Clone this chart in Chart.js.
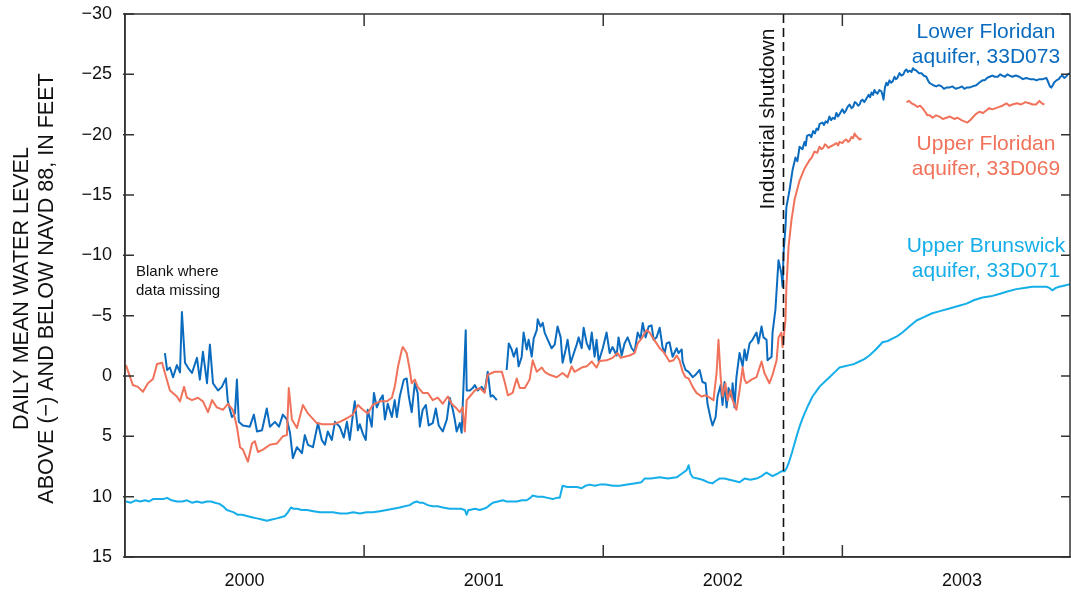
<!DOCTYPE html>
<html>
<head>
<meta charset="utf-8">
<script src="https://cdn.jsdelivr.net/npm/chart.js@4.4.1/dist/chart.umd.min.js"></script>
<style>
  html, body { margin: 0; padding: 0; background: #fff; }
  #wrap { width: 1071px; height: 592px; }
</style>
</head>
<body>
<div id="wrap"><canvas id="chart"></canvas></div>
<script>
// x = decimal year, y = feet (negative = above NAVD 88); null = no record
const yearLabels = ['2000', '2001', '2002', '2003'];
const yearBounds = [2001, 2002, 2003];
const yTicks = [-30, -25, -20, -15, -10, -5, 0, 5, 10, 15];
const shutdownYear = 2002.75;

const lowerFloridan = [
  [2000.167,-1.9],[2000.176,-0.5],[2000.188,-0.7],[2000.201,0.1],[2000.217,-0.9],[2000.230,-0.3],
  [2000.238,-5.3],[2000.251,-1.1],[2000.263,-0.7],[2000.280,-0.25],[2000.301,-1.5],[2000.313,0.3],
  [2000.326,-2.0],[2000.343,0.6],[2000.355,-2.6],[2000.368,0.6],[2000.389,1.2],[2000.405,0.9],
  [2000.422,0.2],[2000.430,2.1],[2000.447,3.4],[2000.460,3.1],[2000.468,0.3],[2000.476,3.8],
  [2000.493,4.1],[2000.522,4.2],[2000.539,3.2],[2000.552,4.6],[2000.573,4.5],[2000.593,2.7],
  [2000.606,4.2],[2000.627,3.8],[2000.644,4.2],[2000.660,3.2],[2000.677,3.6],[2000.690,4.7],
  [2000.702,6.8],[2000.719,5.9],[2000.740,6.4],[2000.752,4.9],[2000.765,5.7],[2000.786,5.9],
  [2000.807,3.9],[2000.823,5.3],[2000.836,5.7],[2000.848,4.6],[2000.865,5.3],[2000.878,3.8],
  [2000.898,4.2],[2000.915,5.1],[2000.928,3.8],[2000.940,5.3],[2000.953,3.2],[2000.961,2.1],
  [2000.974,4.5],[2000.982,4.0],[2000.995,4.8],[2001.007,5.3],[2001.015,2.8],[2001.032,4.2],
  [2001.041,1.4],[2001.053,2.6],[2001.066,2.0],[2001.078,1.6],[2001.087,3.6],[2001.099,2.3],
  [2001.116,3.4],[2001.128,2.0],[2001.137,3.4],[2001.149,1.7],[2001.166,0.3],[2001.178,0.2],
  [2001.187,1.7],[2001.199,3.0],[2001.212,0.6],[2001.224,1.4],[2001.233,4.2],[2001.245,2.8],
  [2001.258,2.4],[2001.270,4.1],[2001.287,3.9],[2001.300,2.7],[2001.312,4.1],[2001.329,4.6],
  [2001.346,3.6],[2001.358,1.8],[2001.371,2.8],[2001.379,3.6],[2001.387,4.6],[2001.400,3.9],
  [2001.408,4.7],[2001.412,2.6],[2001.425,-3.8],[2001.429,1.2],[2001.442,1.2],[2001.454,1.0],
  [2001.463,0.75],[2001.475,1.2],[2001.492,0.9],[2001.504,1.3],[2001.517,-0.35],[2001.529,1.7],
  [2001.538,1.6],[2001.555,2.0],[2001.575,null],
  [2001.596,-0.5],[2001.605,-2.7],[2001.617,-2.2],[2001.626,-1.6],[2001.638,-2.3],[2001.646,-0.8],
  [2001.659,-1.6],[2001.667,-3.6],[2001.680,-2.2],[2001.688,-3.0],[2001.701,-1.6],[2001.709,-3.1],
  [2001.722,-3.8],[2001.726,-4.7],[2001.738,-4.1],[2001.747,-4.4],[2001.755,-3.6],[2001.768,-3.0],
  [2001.784,-2.3],[2001.797,-2.6],[2001.809,-4.1],[2001.822,-3.2],[2001.830,-1.1],[2001.843,-2.2],
  [2001.851,-3.0],[2001.864,-1.1],[2001.872,-1.6],[2001.889,-2.6],[2001.897,-3.2],[2001.910,-2.3],
  [2001.918,-4.0],[2001.931,-2.7],[2001.943,-2.2],[2001.952,-3.6],[2001.964,-1.6],[2001.972,-3.0],
  [2001.981,-1.2],[2001.998,-2.3],[2002.014,-3.6],[2002.027,-1.9],[2002.039,-2.4],[2002.056,-1.7],
  [2002.064,-3.2],[2002.077,-1.7],[2002.089,-2.7],[2002.102,-3.2],[2002.119,-2.3],[2002.131,-2.0],
  [2002.144,-3.6],[2002.156,-3.1],[2002.165,-4.4],[2002.177,-3.2],[2002.190,-4.1],[2002.202,-4.2],
  [2002.211,-3.0],[2002.223,-3.2],[2002.236,-4.0],[2002.248,-2.4],[2002.257,-1.9],[2002.265,-2.7],
  [2002.277,-2.8],[2002.290,-1.6],[2002.307,-2.3],[2002.315,-1.9],[2002.328,-2.2],[2002.332,-1.2],
  [2002.344,-0.5],[2002.357,-0.35],[2002.374,0.1],[2002.386,-0.1],[2002.403,-0.5],[2002.415,0.5],
  [2002.428,0.6],[2002.436,2.3],[2002.449,3.5],[2002.457,4.1],[2002.470,3.4],[2002.478,1.7],
  [2002.491,0.75],[2002.499,2.4],[2002.507,0.5],[2002.516,2.6],[2002.524,1.0],[2002.537,1.8],
  [2002.541,0.6],[2002.549,2.6],[2002.557,0.1],[2002.570,-1.9],[2002.583,-0.8],[2002.591,-2.2],
  [2002.599,-1.3],[2002.612,-2.7],[2002.624,-3.0],[2002.641,-3.6],[2002.649,-2.7],[2002.662,-4.1],
  [2002.670,-3.2],[2002.683,-3.0],[2002.687,-1.3],[2002.704,-1.6],[2002.708,-3.6],[2002.720,-5.5],
  [2002.733,-9.6],[2002.745,-8.5],[2002.750,-7.4],[2002.754,-10.2],[2002.762,-12.3],[2002.766,-14.0],
  [2002.779,-15.4],[2002.792,-17.1],[2002.804,-18.1],[2002.812,-17.8],[2002.821,-19.0],[2002.833,-18.8],
  [2002.842,-19.4],[2002.847,-19.1],[2002.852,-19.9],[2002.863,-20.0],[2002.870,-19.8],[2002.878,-20.3],
  [2002.885,-20.1],[2002.892,-20.5],[2002.899,-20.4],[2002.905,-20.9],[2002.917,-21.0],[2002.923,-20.8],
  [2002.930,-21.1],[2002.938,-21.0],[2002.946,-21.5],[2002.953,-21.2],[2002.960,-21.4],[2002.968,-21.3],
  [2002.975,-21.8],[2002.982,-21.5],[2002.988,-21.7],[2002.994,-21.9],[2003.000,-22.1],[2003.008,-21.8],
  [2003.015,-22.0],[2003.022,-22.3],[2003.030,-22.5],[2003.038,-22.2],[2003.045,-22.3],[2003.052,-22.7],
  [2003.059,-22.6],[2003.066,-22.4],[2003.072,-22.5],[2003.078,-22.8],[2003.084,-22.9],[2003.092,-22.7],
  [2003.101,-23.0],[2003.110,-23.3],[2003.116,-23.1],[2003.122,-23.5],[2003.128,-23.3],[2003.134,-23.7],
  [2003.140,-23.5],[2003.147,-23.4],[2003.155,-23.7],[2003.163,-23.6],[2003.168,-23.3],[2003.172,-22.9],
  [2003.178,-23.9],[2003.184,-24.3],[2003.190,-24.1],[2003.197,-24.5],[2003.204,-24.3],[2003.210,-24.4],
  [2003.218,-24.8],[2003.224,-24.6],[2003.230,-24.7],[2003.239,-25.1],[2003.247,-24.9],[2003.255,-25.0],
  [2003.262,-25.3],[2003.268,-25.4],[2003.274,-25.2],[2003.280,-25.3],[2003.289,-25.2],[2003.295,-25.5],
  [2003.300,-25.4],[2003.310,-25.3],[2003.320,-25.1],[2003.331,-25.1],[2003.340,-24.9],[2003.351,-24.8],
  [2003.358,-24.5],[2003.364,-24.3],[2003.372,-24.2],[2003.380,-24.1],[2003.393,-24.0],[2003.404,-24.1],
  [2003.415,-24.0],[2003.425,-23.8],[2003.435,-23.9],[2003.447,-23.9],[2003.460,-24.0],[2003.474,-23.8],
  [2003.489,-23.9],[2003.500,-24.0],[2003.510,-23.8],[2003.520,-23.9],[2003.531,-23.9],[2003.545,-24.0],
  [2003.560,-24.1],[2003.572,-24.3],[2003.586,-24.5],[2003.595,-24.5],[2003.605,-24.7],[2003.616,-24.8],
  [2003.627,-24.9],[2003.638,-24.8],[2003.650,-24.8],[2003.660,-25.0],[2003.669,-24.9],[2003.680,-24.8],
  [2003.690,-25.0],[2003.700,-24.9],[2003.711,-24.8],[2003.725,-24.9],[2003.740,-24.8],[2003.755,-24.6],
  [2003.769,-24.7],[2003.785,-24.6],[2003.800,-24.6],[2003.812,-24.5],[2003.824,-24.6],[2003.838,-24.6],
  [2003.853,-24.7],[2003.862,-24.3],[2003.868,-24.0],[2003.874,-23.9],[2003.880,-24.1],[2003.885,-24.3],
  [2003.895,-24.5],[2003.905,-24.6],[2003.912,-24.8],[2003.920,-24.9],[2003.928,-24.7],[2003.935,-24.8],
  [2003.943,-25.0],[2003.952,-25.1]
];

const upperFloridan = [
  [2000.004,-0.9],[2000.033,0.75],[2000.054,0.9],[2000.075,1.3],[2000.096,0.6],[2000.117,0.25],
  [2000.134,-1.0],[2000.155,-1.1],[2000.167,-0.25],[2000.188,1.2],[2000.217,1.7],[2000.230,2.1],
  [2000.247,0.9],[2000.259,1.8],[2000.280,2.0],[2000.305,1.8],[2000.326,2.1],[2000.347,3.0],
  [2000.364,2.0],[2000.384,2.6],[2000.410,2.8],[2000.430,2.3],[2000.451,2.8],[2000.468,4.2],
  [2000.481,5.9],[2000.493,6.1],[2000.514,7.1],[2000.531,5.6],[2000.543,5.4],[2000.556,6.3],
  [2000.577,6.1],[2000.606,5.7],[2000.635,5.6],[2000.660,5.0],[2000.677,4.9],[2000.685,1.0],
  [2000.698,3.6],[2000.719,4.3],[2000.744,2.4],[2000.765,3.1],[2000.802,3.9],[2000.827,4.0],
  [2000.869,4.0],[2000.898,3.8],[2000.928,3.5],[2000.953,3.2],[2000.974,2.4],[2000.995,2.8],
  [2001.015,3.1],[2001.036,2.4],[2001.066,2.1],[2001.095,2.1],[2001.116,1.8],[2001.128,0.9],
  [2001.141,-0.7],[2001.158,-2.2],[2001.162,-2.4],[2001.178,-1.9],[2001.191,-0.5],[2001.199,0.6],
  [2001.212,0.3],[2001.224,0.9],[2001.245,1.4],[2001.266,1.4],[2001.287,2.0],[2001.308,1.8],
  [2001.329,2.3],[2001.350,1.7],[2001.366,2.3],[2001.387,2.7],[2001.400,3.0],[2001.412,2.6],
  [2001.421,4.6],[2001.429,2.0],[2001.442,1.7],[2001.463,1.2],[2001.484,1.0],[2001.504,1.4],
  [2001.517,-0.1],[2001.534,-0.25],[2001.546,-0.35],[2001.576,-0.35],[2001.588,0.5],[2001.601,1.6],
  [2001.621,1.4],[2001.638,0.2],[2001.651,1.0],[2001.672,1.0],[2001.692,0.3],[2001.705,-1.3],
  [2001.722,-0.35],[2001.743,-0.7],[2001.755,-0.35],[2001.776,-0.1],[2001.805,0.1],[2001.830,-0.25],
  [2001.851,0.1],[2001.868,-0.8],[2001.880,-0.35],[2001.910,-0.7],[2001.931,-0.8],[2001.952,-1.2],
  [2001.972,-0.7],[2001.985,-1.25],[2002.014,-1.3],[2002.039,-1.5],[2002.060,-1.9],[2002.073,-1.5],
  [2002.089,-1.6],[2002.110,-1.7],[2002.131,-1.9],[2002.144,-2.7],[2002.160,-3.1],[2002.181,-3.8],
  [2002.194,-3.6],[2002.206,-3.2],[2002.223,-2.7],[2002.236,-2.3],[2002.252,-2.0],[2002.265,-1.6],
  [2002.277,-1.2],[2002.294,-1.3],[2002.307,-1.7],[2002.319,-1.3],[2002.332,-0.35],[2002.344,0.1],
  [2002.357,0.2],[2002.374,0.9],[2002.390,1.4],[2002.411,1.7],[2002.428,1.6],[2002.445,1.8],
  [2002.461,2.0],[2002.474,-0.25],[2002.482,-3.0],[2002.491,0.1],[2002.499,1.7],[2002.511,0.6],
  [2002.520,2.0],[2002.532,1.2],[2002.541,2.0],[2002.557,2.8],[2002.570,1.2],[2002.583,-0.7],
  [2002.591,0.3],[2002.599,0.6],[2002.620,0.3],[2002.641,0.1],[2002.662,-1.2],[2002.674,-0.25],
  [2002.695,0.6],[2002.708,-0.1],[2002.725,-1.3],[2002.733,-3.2],[2002.745,-3.6],[2002.750,-2.4],
  [2002.762,-4.6],[2002.766,-7.4],[2002.775,-10.7],[2002.787,-12.9],[2002.800,-14.6],[2002.821,-16.2],
  [2002.842,-17.2],[2002.863,-17.9],[2002.872,-18.1],[2002.883,-18.6],[2002.895,-18.5],[2002.904,-19.0],
  [2002.912,-18.8],[2002.920,-18.9],[2002.927,-19.2],[2002.934,-19.1],[2002.941,-18.9],[2002.948,-19.0],
  [2002.959,-19.1],[2002.967,-19.2],[2002.975,-19.3],[2002.982,-19.1],[2002.988,-19.4],[2003.000,-19.3],
  [2003.008,-19.5],[2003.017,-19.6],[2003.024,-19.4],[2003.030,-19.5],[2003.038,-19.8],[2003.045,-19.7],
  [2003.051,-20.1],[2003.057,-19.9],[2003.063,-19.8],[2003.072,-19.6],[2003.080,-19.7],[2003.170,null],
  [2003.268,-22.7],[2003.279,-22.8],[2003.289,-22.6],[2003.300,-22.5],[2003.314,-22.3],[2003.325,-22.4],
  [2003.335,-22.2],[2003.346,-21.9],[2003.356,-21.6],[2003.366,-21.6],[2003.377,-21.4],[2003.392,-21.6],
  [2003.406,-21.5],[2003.420,-21.3],[2003.435,-21.4],[2003.450,-21.5],[2003.468,-21.3],[2003.482,-21.4],
  [2003.498,-21.2],[2003.510,-21.1],[2003.523,-21.0],[2003.534,-21.2],[2003.544,-21.4],[2003.558,-21.7],
  [2003.573,-21.9],[2003.588,-21.8],[2003.602,-22.0],[2003.614,-22.2],[2003.627,-22.1],[2003.642,-22.2],
  [2003.656,-22.3],[2003.670,-22.4],[2003.686,-22.6],[2003.698,-22.4],[2003.711,-22.5],[2003.730,-22.6],
  [2003.748,-22.5],[2003.765,-22.7],[2003.782,-22.6],[2003.796,-22.5],[2003.810,-22.5],[2003.824,-22.8],
  [2003.834,-22.6],[2003.845,-22.5]
];

const upperBrunswick = [
  [2000.004,10.4],[2000.025,10.5],[2000.045,10.3],[2000.063,10.4],[2000.085,10.3],[2000.100,10.4],
  [2000.117,10.2],[2000.140,10.2],[2000.160,10.2],[2000.176,10.1],[2000.195,10.3],[2000.217,10.4],
  [2000.240,10.4],[2000.259,10.3],[2000.280,10.5],[2000.301,10.4],[2000.322,10.5],[2000.343,10.4],
  [2000.360,10.4],[2000.376,10.5],[2000.395,10.6],[2000.410,10.8],[2000.426,11.1],[2000.440,11.2],
  [2000.455,11.3],[2000.472,11.5],[2000.490,11.5],[2000.510,11.6],[2000.530,11.7],[2000.552,11.8],
  [2000.572,11.9],[2000.593,12.0],[2000.614,11.9],[2000.635,11.8],[2000.652,11.7],[2000.669,11.6],
  [2000.681,11.3],[2000.694,10.9],[2000.705,11.0],[2000.719,11.0],[2000.740,11.1],[2000.761,11.1],
  [2000.788,11.2],[2000.815,11.3],[2000.842,11.3],[2000.869,11.3],[2000.900,11.4],[2000.928,11.4],
  [2000.955,11.3],[2000.982,11.4],[2001.010,11.3],[2001.036,11.3],[2001.066,11.2],[2001.095,11.1],
  [2001.122,11.0],[2001.149,10.9],[2001.170,10.8],[2001.191,10.7],[2001.205,10.5],[2001.220,10.4],
  [2001.232,10.5],[2001.245,10.5],[2001.266,10.7],[2001.287,10.8],[2001.308,10.8],[2001.329,10.9],
  [2001.358,11.0],[2001.387,11.0],[2001.405,11.0],[2001.421,11.1],[2001.429,11.5],[2001.436,11.1],
  [2001.442,11.1],[2001.463,11.0],[2001.484,11.1],[2001.500,11.0],[2001.513,10.9],[2001.525,10.7],
  [2001.538,10.5],[2001.560,10.4],[2001.580,10.3],[2001.596,10.4],[2001.617,10.4],[2001.638,10.4],
  [2001.660,10.3],[2001.680,10.3],[2001.695,10.1],[2001.705,9.9],[2001.725,10.0],[2001.747,10.0],
  [2001.768,10.1],[2001.789,10.2],[2001.805,10.1],[2001.818,10.1],[2001.824,9.6],[2001.830,9.1],
  [2001.850,9.2],[2001.872,9.2],[2001.890,9.2],[2001.910,9.3],[2001.925,9.1],[2001.943,9.0],
  [2001.965,9.1],[2001.985,9.0],[2002.010,9.0],[2002.040,9.1],[2002.069,9.1],[2002.100,9.0],
  [2002.130,8.9],[2002.160,8.8],[2002.173,8.5],[2002.200,8.5],[2002.236,8.4],[2002.270,8.5],
  [2002.307,8.4],[2002.328,8.1],[2002.349,7.8],[2002.357,7.4],[2002.365,8.1],[2002.374,8.4],
  [2002.395,8.5],[2002.415,8.6],[2002.437,8.8],[2002.457,8.9],[2002.470,8.7],[2002.486,8.5],
  [2002.508,8.5],[2002.528,8.6],[2002.550,8.7],[2002.570,8.8],[2002.591,8.5],[2002.615,8.6],
  [2002.641,8.5],[2002.662,8.3],[2002.683,8.0],[2002.708,8.3],[2002.728,8.1],[2002.745,7.9],
  [2002.758,7.9],[2002.768,7.6],[2002.779,7.0],[2002.790,6.3],[2002.800,5.6],[2002.810,4.9],
  [2002.821,4.2],[2002.832,3.6],[2002.842,3.1],[2002.858,2.4],[2002.875,1.7],[2002.890,1.3],
  [2002.904,0.9],[2002.925,0.5],[2002.946,0.1],[2002.967,-0.3],[2002.988,-0.7],[2003.010,-0.8],
  [2003.030,-0.9],[2003.050,-1.0],[2003.071,-1.2],[2003.092,-1.4],[2003.113,-1.7],[2003.140,-2.2],
  [2003.168,-2.8],[2003.190,-2.9],[2003.209,-3.1],[2003.230,-3.3],[2003.251,-3.6],[2003.280,-4.1],
  [2003.310,-4.6],[2003.343,-4.9],[2003.376,-5.2],[2003.412,-5.4],[2003.448,-5.6],[2003.484,-5.8],
  [2003.519,-6.0],[2003.552,-6.3],[2003.586,-6.5],[2003.620,-6.6],[2003.656,-6.8],[2003.690,-7.0],
  [2003.727,-7.2],[2003.760,-7.3],[2003.794,-7.4],[2003.825,-7.4],[2003.853,-7.4],[2003.866,-7.3],
  [2003.878,-7.1],[2003.893,-7.3],[2003.907,-7.4],[2003.930,-7.5],[2003.952,-7.6]
];

const FONT = '"Liberation Sans", Arial, Helvetica, sans-serif';
const colLower = '#0b6cbf';
const colUpper = '#f1725a';
const colBruns = '#16aee9';
const axisColor = '#333';

const toXY = s => s.map(([x, y]) => ({ x, y }));

const decorations = {
  id: 'decorations',
  afterDatasetsDraw(chart) {
    const { ctx, chartArea: a, scales: { x, y } } = chart;
    ctx.save();

    // industrial shutdown marker
    const sx = Math.round(x.getPixelForValue(shutdownYear)) + 0.5;
    ctx.strokeStyle = '#111';
    ctx.lineWidth = 1.6;
    ctx.setLineDash([9, 5]);
    ctx.beginPath();
    ctx.moveTo(sx, a.top);
    ctx.lineTo(sx, a.bottom);
    ctx.stroke();
    ctx.setLineDash([]);

    // box + inward ticks
    ctx.strokeStyle = axisColor;
    ctx.lineWidth = 1.5;
    ctx.strokeRect(a.left, a.top, a.right - a.left, a.bottom - a.top);
    ctx.beginPath();
    yTicks.forEach(v => {
      const py = y.getPixelForValue(v);
      ctx.moveTo(a.left - 2, py); ctx.lineTo(a.left + 9, py);
      ctx.moveTo(a.right - 9, py); ctx.lineTo(a.right, py);
    });
    yearBounds.forEach(v => {
      const px = x.getPixelForValue(v);
      ctx.moveTo(px, a.bottom); ctx.lineTo(px, a.bottom - 12);
      ctx.moveTo(px, a.top); ctx.lineTo(px, a.top + 12);
    });
    ctx.stroke();

    // y-axis title
    const cy = (a.top + a.bottom) / 2 + 3;
    ctx.fillStyle = '#111';
    ctx.font = '21.5px ' + FONT;
    ctx.textAlign = 'center';
    ctx.textBaseline = 'middle';
    [['DAILY MEAN WATER LEVEL', 22], ['ABOVE (\u2212) AND BELOW NAVD 88, IN FEET', 47]].forEach(([t, px]) => {
      ctx.save();
      ctx.translate(px, cy);
      ctx.rotate(-Math.PI / 2);
      ctx.fillText(t, 0, 0);
      ctx.restore();
    });

    // shutdown label
    ctx.save();
    ctx.translate(sx - 10, y.getPixelForValue(-13.8));
    ctx.rotate(-Math.PI / 2);
    ctx.textAlign = 'left';
    ctx.textBaseline = 'alphabetic';
    ctx.font = '21px ' + FONT;
    ctx.fillText('Industrial shutdown', 0, 0);
    ctx.restore();

    // series labels
    ctx.textAlign = 'center';
    ctx.textBaseline = 'alphabetic';
    ctx.font = '21px ' + FONT;
    const lx = 986;
    const labels = [
      [colLower, 'Lower Floridan', 38], [colLower, 'aquifer, 33D073', 63],
      [colUpper, 'Upper Floridan', 150], [colUpper, 'aquifer, 33D069', 175],
      [colBruns, 'Upper Brunswick', 252], [colBruns, 'aquifer, 33D071', 277]
    ];
    labels.forEach(([c, t, py]) => { ctx.fillStyle = c; ctx.fillText(t, lx, py); });

    ctx.fillStyle = '#111';
    ctx.textAlign = 'left';
    ctx.font = '15px ' + FONT;
    ctx.fillText('Blank where', 136, 276);
    ctx.fillText('data missing', 136, 295);
    ctx.restore();
  }
};

new Chart(document.getElementById('chart'), {
  type: 'line',
  data: {
    datasets: [
      { label: 'Upper Floridan aquifer, 33D069', data: toXY(upperFloridan), borderColor: colUpper, order: 1 },
      { label: 'Lower Floridan aquifer, 33D073', data: toXY(lowerFloridan), borderColor: colLower, order: 2 },
      { label: 'Upper Brunswick aquifer, 33D071', data: toXY(upperBrunswick), borderColor: colBruns, order: 3 }
    ]
  },
  options: {
    responsive: true,
    maintainAspectRatio: false,
    animation: false,
    layout: { padding: { top: 14, right: 1, left: 0, bottom: 0 } },
    elements: {
      line: { borderWidth: 2, tension: 0, borderJoinStyle: 'round' },
      point: { radius: 0, hoverRadius: 0 }
    },
    plugins: { legend: { display: false }, tooltip: { enabled: false } },
    scales: {
      x: {
        type: 'linear',
        min: 2000,
        max: 2003.952,
        afterFit: s => { s.height = 35; s.paddingLeft = 0; s.paddingRight = 0; },
        afterBuildTicks: s => { s.ticks = yearLabels.map(l => ({ value: Number(l) + 0.5 })); },
        ticks: {
          autoSkip: false,
          maxRotation: 0,
          padding: 13,
          color: '#111',
          font: { family: FONT, size: 18 },
          callback: v => String(Math.floor(v))
        },
        grid: { display: false, drawTicks: false },
        border: { display: true, color: axisColor, width: 1.5 }
      },
      y: {
        type: 'linear',
        reverse: true,
        min: -30,
        max: 15,
        afterFit: s => { s.width = 125; s.paddingTop = 0; s.paddingBottom = 0; },
        afterBuildTicks: s => { s.ticks = yTicks.map(v => ({ value: v })); },
        ticks: {
          padding: 13,
          color: '#111',
          font: { family: FONT, size: 18 },
          callback: v => v < 0 ? '\u2212' + Math.abs(v) : String(v)
        },
        grid: { display: false, drawTicks: false },
        border: { display: true, color: axisColor, width: 1.5 }
      }
    }
  },
  plugins: [decorations]
});
</script>
</body>
</html>
